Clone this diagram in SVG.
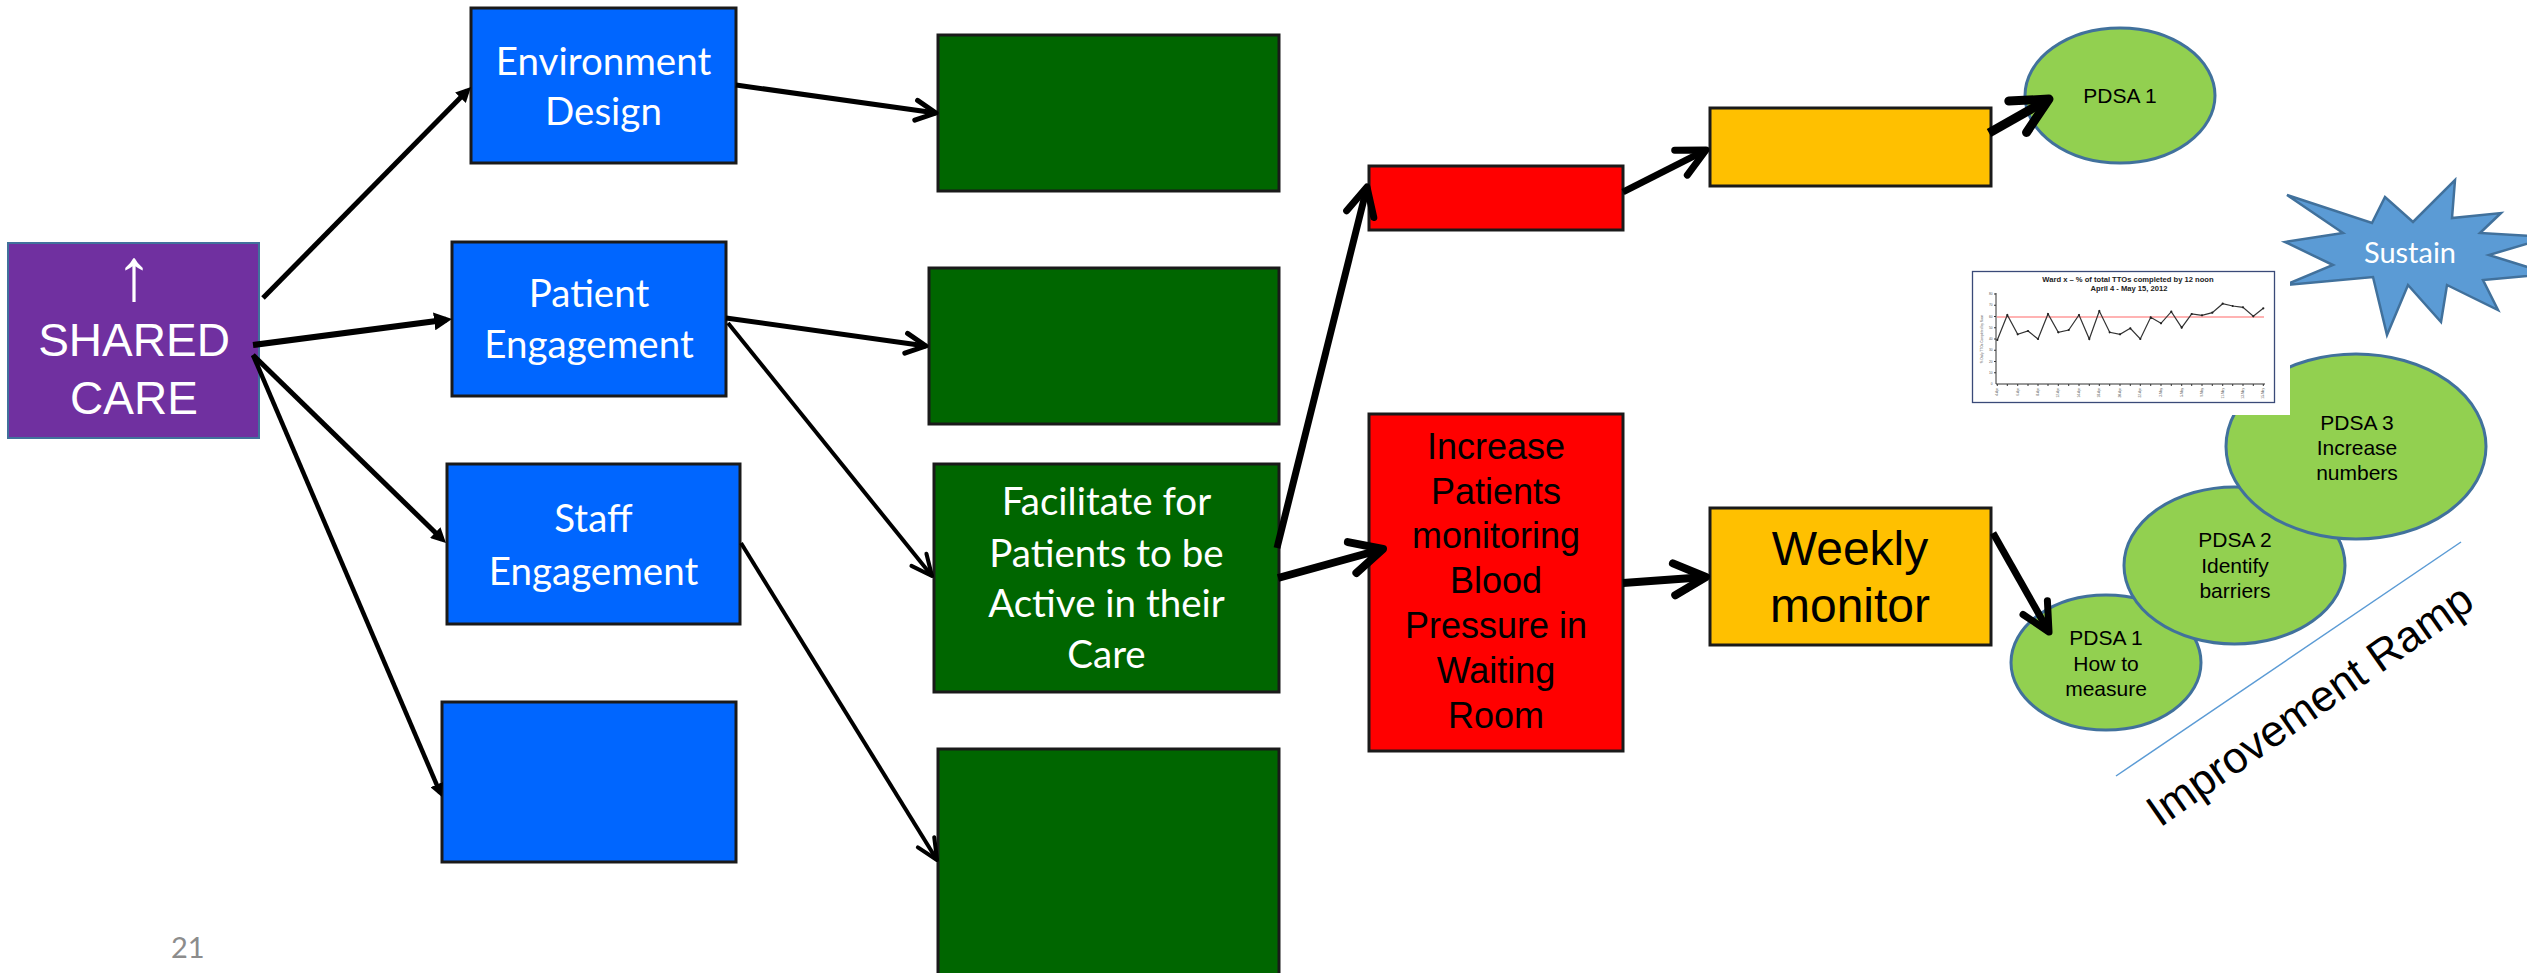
<svg xmlns="http://www.w3.org/2000/svg" width="2527" height="973" viewBox="0 0 2527 973">
  <style>
    .box { stroke: #1a1a1a; stroke-width: 3; }
    .blue { fill: #0066FF; }
    .green { fill: #006600; }
    .red { fill: #FF0000; }
    .amber { fill: #FFC000; }
    .pdsa { fill: #92D050; stroke: #41719C; stroke-width: 3; }
    .cal { font-family: Lato, "Open Sans", sans-serif; font-size: 38.5px; fill: #ffffff; text-anchor: middle; }
    .ari { font-family: "Liberation Sans", Arial, sans-serif; text-anchor: middle; fill: #000000; }
    .pd { font-size: 21px; }
    .wire { fill: none; stroke: #000000; stroke-linecap: butt; }
    .ax { stroke: #333333; stroke-width: 1; fill: none; }
    .tiny { font-family: "Liberation Sans", Arial, sans-serif; font-size: 3.2px; fill: #555555; }
  </style>
  <defs>
    <!-- solid triangle head; tip sits one stroke width past the line end -->
    <marker id="solid" viewBox="0 0 10 10" refX="6.67" refY="5" markerWidth="3" markerHeight="3" markerUnits="strokeWidth" orient="auto">
      <path d="M0,0 L10,5 L0,10 z" fill="#000000"/>
    </marker>
    <!-- open V head -->
    <marker id="open" viewBox="0 0 10 10" refX="9" refY="5" markerWidth="5" markerHeight="5" markerUnits="strokeWidth" orient="auto" overflow="visible">
      <path d="M1,1 L9,5 L1,9" fill="none" stroke="#000000" stroke-width="2" stroke-linecap="round" stroke-linejoin="round"/>
    </marker>
    <marker id="openL" viewBox="0 0 10 10" refX="9" refY="5" markerWidth="6.5" markerHeight="6.5" markerUnits="strokeWidth" orient="auto" overflow="visible">
      <path d="M1,1.3 L9,5 L1,8.7" fill="none" stroke="#000000" stroke-width="1.55" stroke-linecap="round" stroke-linejoin="round"/>
    </marker>
  </defs>

  <rect width="2527" height="973" fill="#ffffff"/>

  <!-- driver nodes -->
  <g id="n-shared-care">
    <rect x="8" y="243" width="251" height="195" fill="#7030A0" stroke="#41719C" stroke-width="2"/>
    <text class="ari" x="134" y="300" font-size="74" style="fill:#ffffff">↑</text>
    <text class="ari" x="134" y="356" font-size="46" style="fill:#ffffff">SHARED</text>
    <text class="ari" x="134" y="414" font-size="46" style="fill:#ffffff">CARE</text>
  </g>
  <g id="n-environment-design">
    <rect class="box blue" x="471" y="8" width="265" height="155"/>
    <text class="cal" x="603.5" y="75">Environment</text>
    <text class="cal" x="603.5" y="125">Design</text>
  </g>
  <g id="n-patient-engagement">
    <rect class="box blue" x="452" y="242" width="274" height="154"/>
    <text class="cal" x="589" y="307">Patient</text>
    <text class="cal" x="589" y="358">Engagement</text>
  </g>
  <g id="n-staff-engagement">
    <rect class="box blue" x="447" y="464" width="293" height="160"/>
    <text class="cal" x="593.5" y="532">Staff</text>
    <text class="cal" x="593.5" y="585">Engagement</text>
  </g>
  <g id="n-blue-empty">
    <rect class="box blue" x="442" y="702" width="294" height="160"/>
  </g>

  <g id="n-green-1">
    <rect class="box green" x="938" y="35" width="341" height="156"/>
  </g>
  <g id="n-green-2">
    <rect class="box green" x="929" y="268" width="350" height="156"/>
  </g>
  <g id="n-facilitate">
    <rect class="box green" x="934" y="464" width="345" height="228"/>
    <text class="cal" x="1106.5" y="515">Facilitate for</text>
    <text class="cal" x="1106.5" y="567">Patients to be</text>
    <text class="cal" x="1106.5" y="617">Active in their</text>
    <text class="cal" x="1106.5" y="668">Care</text>
  </g>
  <g id="n-green-3">
    <rect class="box green" x="938" y="749" width="341" height="240"/>
  </g>

  <g id="n-red-top">
    <rect class="box red" x="1369" y="166" width="254" height="64"/>
  </g>
  <g id="n-red-bp">
    <rect class="box red" x="1369" y="414" width="254" height="337"/>
    <text class="ari" x="1496" y="459" font-size="36">Increase</text>
    <text class="ari" x="1496" y="504" font-size="36">Patients</text>
    <text class="ari" x="1496" y="548" font-size="36">monitoring</text>
    <text class="ari" x="1496" y="593" font-size="36">Blood</text>
    <text class="ari" x="1496" y="638" font-size="36">Pressure in</text>
    <text class="ari" x="1496" y="683" font-size="36">Waiting</text>
    <text class="ari" x="1496" y="728" font-size="36">Room</text>
  </g>

  <g id="n-amber-top">
    <rect class="box amber" x="1710" y="108" width="281" height="78"/>
  </g>
  <g id="n-weekly-monitor">
    <rect class="box amber" x="1710" y="508" width="281" height="137"/>
    <text class="ari" x="1850" y="565" font-size="48">Weekly</text>
    <text class="ari" x="1850" y="622" font-size="48">monitor</text>
  </g>

  <g id="n-pdsa-1-top">
    <ellipse class="pdsa" cx="2120" cy="95.5" rx="95" ry="67.5"/>
    <text class="ari pd" x="2120" y="103">PDSA 1</text>
  </g>

  <g id="n-sustain">
    <polygon points="2287,195 2372,223 2385,197 2413,222 2455,180 2452,218 2501,213 2480,233 2550,237 2489,255 2550,274 2483,280 2498,310 2447,285 2441,322 2408,285 2387,335 2373,277 2285,285 2333,265 2285,242 2343,233" fill="#5B9BD5" stroke="#41719C" stroke-width="2.5" stroke-linejoin="miter"/>
    <text class="cal" x="2410" y="263" style="font-size:29px">Sustain</text>
  </g>

  <!-- improvement ramp: PDSA cycles stacked up the slope -->
  <g id="n-pdsa-1-measure">
    <ellipse class="pdsa" cx="2106" cy="662.5" rx="95" ry="67.5"/>
    <text class="ari pd" x="2106" y="645">PDSA 1</text>
    <text class="ari pd" x="2106" y="671">How to</text>
    <text class="ari pd" x="2106" y="696">measure</text>
  </g>
  <g id="n-pdsa-2">
    <ellipse class="pdsa" cx="2234.5" cy="565.5" rx="110.5" ry="78.5"/>
    <text class="ari pd" x="2235" y="547">PDSA 2</text>
    <text class="ari pd" x="2235" y="573">Identify</text>
    <text class="ari pd" x="2235" y="598">barriers</text>
  </g>
  <g id="n-pdsa-3">
    <ellipse class="pdsa" cx="2356" cy="446.5" rx="130" ry="92.5"/>
    <text class="ari pd" x="2357" y="430">PDSA 3</text>
    <text class="ari pd" x="2357" y="455">Increase</text>
    <text class="ari pd" x="2357" y="480">numbers</text>
  </g>

  <!-- run chart -->
  <g id="n-run-chart">
    <rect x="1962" y="262" width="328" height="153" fill="#ffffff"/>
    <rect x="1972.5" y="271.5" width="302" height="131" fill="#ffffff" stroke="#3A4A78" stroke-width="1.3"/>
    <text x="2128" y="282" font-family="Liberation Sans, Arial, sans-serif" font-weight="bold" font-size="7.6" text-anchor="middle" fill="#222222">Ward x – % of total TTOs completed by 12 noon</text>
    <text x="2129" y="291" font-family="Liberation Sans, Arial, sans-serif" font-weight="bold" font-size="7.6" text-anchor="middle" fill="#222222">April 4 - May 15, 2012</text>
    <text class="tiny" transform="translate(1983 339) rotate(-90)" text-anchor="middle">% Daily TTOs Completed by Noon</text>
    <path class="ax" d="M1996,293 V384 H2265"/>
    <path class="ax" d="M1994,294H1996M1994,305.25H1996M1994,316.5H1996M1994,327.75H1996M1994,339H1996M1994,350.25H1996M1994,361.5H1996M1994,372.75H1996"/>
    <g class="tiny" text-anchor="end">
      <text x="1992.5" y="295">80</text><text x="1992.5" y="306.3">70</text><text x="1992.5" y="317.5">60</text>
      <text x="1992.5" y="328.8">50</text><text x="1992.5" y="340">40</text><text x="1992.5" y="351.3">30</text>
      <text x="1992.5" y="362.5">20</text><text x="1992.5" y="373.8">10</text><text x="1992.5" y="385">0</text>
    </g>
    <line x1="1997" y1="317" x2="2264" y2="317" stroke="#FF9A9A" stroke-width="1.3"/>
    <polyline fill="none" stroke="#333333" stroke-width="1.2" points="1997.3,340 2007.3,315 2017.7,334.3 2028,331 2038,339 2048,314 2058.3,332.3 2068.7,330 2079,315 2089.3,339 2099.3,311 2109.7,332.3 2120,334.3 2130.3,328.3 2140.3,339 2150.7,317.3 2161,323.3 2171.3,311.7 2181.7,327.7 2191.7,314 2202,315.3 2212.3,312.7 2222.7,303.7 2232.7,306 2243,307.3 2253.3,316.3 2263.3,308.3"/>
    <g fill="#222222">
      <circle cx="1997.3" cy="340" r="1.1"/><circle cx="2007.3" cy="315" r="1.1"/><circle cx="2017.7" cy="334.3" r="1.1"/>
      <circle cx="2028" cy="331" r="1.1"/><circle cx="2038" cy="339" r="1.1"/><circle cx="2048" cy="314" r="1.1"/>
      <circle cx="2058.3" cy="332.3" r="1.1"/><circle cx="2068.7" cy="330" r="1.1"/><circle cx="2079" cy="315" r="1.1"/>
      <circle cx="2089.3" cy="339" r="1.1"/><circle cx="2099.3" cy="311" r="1.1"/><circle cx="2109.7" cy="332.3" r="1.1"/>
      <circle cx="2120" cy="334.3" r="1.1"/><circle cx="2130.3" cy="328.3" r="1.1"/><circle cx="2140.3" cy="339" r="1.1"/>
      <circle cx="2150.7" cy="317.3" r="1.1"/><circle cx="2161" cy="323.3" r="1.1"/><circle cx="2171.3" cy="311.7" r="1.1"/>
      <circle cx="2181.7" cy="327.7" r="1.1"/><circle cx="2191.7" cy="314" r="1.1"/><circle cx="2202" cy="315.3" r="1.1"/>
      <circle cx="2212.3" cy="312.7" r="1.1"/><circle cx="2222.7" cy="303.7" r="1.1"/><circle cx="2232.7" cy="306" r="1.1"/>
      <circle cx="2243" cy="307.3" r="1.1"/><circle cx="2253.3" cy="316.3" r="1.1"/><circle cx="2263.3" cy="308.3" r="1.1"/>
    </g>
    <path class="ax" d="M1997.3,384v2M2007.3,384v2M2017.7,384v2M2028,384v2M2038,384v2M2048,384v2M2058.3,384v2M2068.7,384v2M2079,384v2M2089.3,384v2M2099.3,384v2M2109.7,384v2M2120,384v2M2130.3,384v2M2140.3,384v2M2150.7,384v2M2161,384v2M2171.3,384v2M2181.7,384v2M2191.7,384v2M2202,384v2M2212.3,384v2M2222.7,384v2M2232.7,384v2M2243,384v2M2253.3,384v2M2263.3,384v2"/>
    <g class="tiny" text-anchor="end">
      <text transform="translate(1998.4 388) rotate(-90)">4-Apr</text>
      <text transform="translate(2018.8 388) rotate(-90)">6-Apr</text>
      <text transform="translate(2039.1 388) rotate(-90)">8-Apr</text>
      <text transform="translate(2059.4 388) rotate(-90)">12-Apr</text>
      <text transform="translate(2080.1 388) rotate(-90)">14-Apr</text>
      <text transform="translate(2100.4 388) rotate(-90)">18-Apr</text>
      <text transform="translate(2121.1 388) rotate(-90)">20-Apr</text>
      <text transform="translate(2141.4 388) rotate(-90)">22-Apr</text>
      <text transform="translate(2162.1 388) rotate(-90)">3-May</text>
      <text transform="translate(2182.8 388) rotate(-90)">5-May</text>
      <text transform="translate(2203.1 388) rotate(-90)">9-May</text>
      <text transform="translate(2223.8 388) rotate(-90)">11-May</text>
      <text transform="translate(2244.1 388) rotate(-90)">13-May</text>
      <text transform="translate(2264.4 388) rotate(-90)">15-May</text>
    </g>
  </g>

  <g id="ramp">
    <line x1="2116" y1="776" x2="2461" y2="542" stroke="#5B9BD5" stroke-width="1.5"/>
    <text x="2160" y="828" font-family="Liberation Sans, Arial, sans-serif" font-size="44" fill="#000000" transform="rotate(-35 2160 828)">Improvement Ramp</text>
  </g>

  <text id="page-number" x="171" y="958" font-family="Lato, sans-serif" font-size="29" fill="#8C8C8C">21</text>

  <!-- connectors -->
  <g id="connectors" class="wire">
    <line x1="263" y1="298" x2="467.5" y2="90.6" stroke-width="5" marker-end="url(#solid)"/>
    <line x1="253" y1="345" x2="446.1" y2="319.8" stroke-width="6" marker-end="url(#solid)"/>
    <line x1="253" y1="355" x2="442.4" y2="539.5" stroke-width="5" marker-end="url(#solid)"/>
    <line x1="253" y1="355" x2="440.2" y2="792.9" stroke-width="4.5" marker-end="url(#solid)"/>

    <line x1="736" y1="85" x2="936" y2="113" stroke-width="5" marker-end="url(#open)"/>
    <line x1="726" y1="318" x2="926" y2="346" stroke-width="5" marker-end="url(#open)"/>
    <line x1="728" y1="323" x2="932" y2="576" stroke-width="4" marker-end="url(#openL)"/>
    <line x1="741" y1="543" x2="937" y2="860" stroke-width="4" marker-end="url(#openL)"/>

    <line x1="1277" y1="548" x2="1367" y2="187" stroke-width="7" marker-end="url(#open)"/>
    <line x1="1278" y1="578" x2="1383" y2="549" stroke-width="8" marker-end="url(#open)"/>
    <line x1="1623" y1="192" x2="1706" y2="150" stroke-width="7" marker-end="url(#open)"/>
    <line x1="1623" y1="583" x2="1706" y2="577" stroke-width="8" marker-end="url(#open)"/>

    <line x1="1989" y1="133" x2="2049" y2="99" stroke-width="9" marker-end="url(#open)"/>
    <line x1="1993" y1="533" x2="2049" y2="632" stroke-width="7" marker-end="url(#open)"/>
  </g>
</svg>
